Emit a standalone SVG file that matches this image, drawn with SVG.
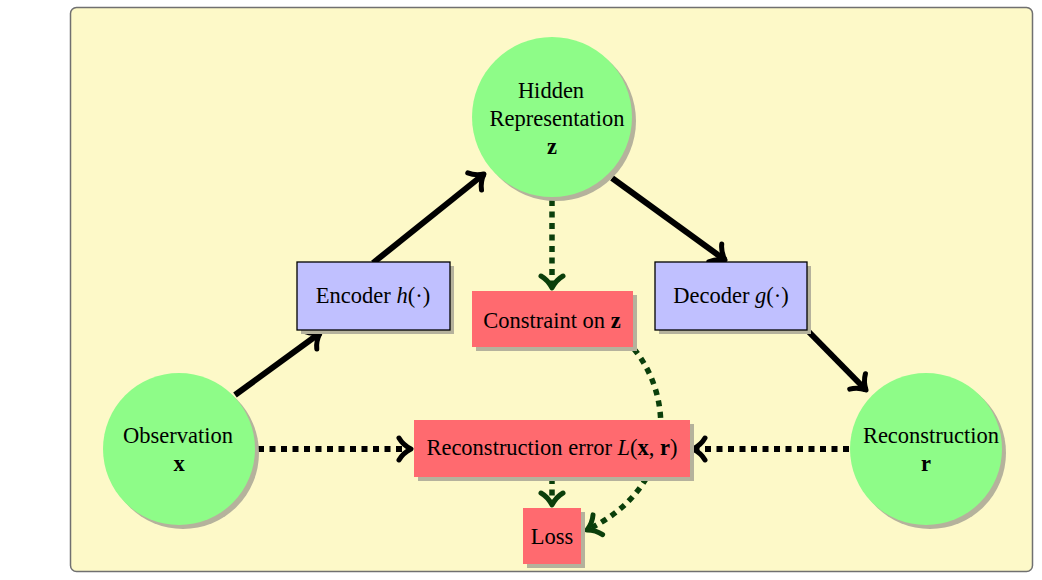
<svg xmlns="http://www.w3.org/2000/svg" width="1042" height="580" viewBox="0 0 1042 580">
<style>
text{font-family:"Liberation Serif","Times New Roman",serif;font-size:22.5px;fill:#000;text-anchor:middle}
.it{font-style:italic}
.bf{font-weight:bold}
.shadow{fill:#b5b29c}
.circ{fill:#8efc88}
.enc{fill:#c0c0ff;stroke:#000;stroke-width:1.3}
.err{fill:#ff6a6f}
.solid{fill:none;stroke:#000;stroke-width:6}
.dotk{fill:none;stroke:#000;stroke-width:6;stroke-dasharray:6 5.5}
.dotg{fill:none;stroke:#0b3f0b;stroke-width:5.5;stroke-dasharray:6 5.5}
</style>
<defs>
<marker id="ak" markerUnits="userSpaceOnUse" orient="auto" refX="0" refY="0" markerWidth="30" markerHeight="30" overflow="visible">
<path d="M -12 -11 C -8 -4 -2 -1 0 0 C -2 1 -8 4 -12 11" fill="none" stroke="#000" stroke-width="5" stroke-linecap="round" stroke-linejoin="round"/>
</marker>
<marker id="ag" markerUnits="userSpaceOnUse" orient="auto" refX="0" refY="0" markerWidth="30" markerHeight="30" overflow="visible">
<path d="M -12 -11 C -8 -4 -2 -1 0 0 C -2 1 -8 4 -12 11" fill="none" stroke="#0b3f0b" stroke-width="5" stroke-linecap="round" stroke-linejoin="round"/>
</marker>
</defs>
<rect id="frame" x="70.5" y="7.5" width="962" height="564" rx="6" fill="#fdf9c8" stroke="#707070" stroke-width="1.5"/>
<g id="connectors">
<path class="solid" d="M 235 395 L 320 333" marker-end="url(#ak)"/>
<path class="solid" d="M 373 263 L 484 174" marker-end="url(#ak)"/>
<path class="solid" d="M 612 178 L 725 260" marker-end="url(#ak)"/>
<path class="solid" d="M 807 330 L 866 390" marker-end="url(#ak)"/>
<path class="dotk" d="M 258 449 L 411 449" marker-end="url(#ak)"/>
<path class="dotk" d="M 849 449 L 693 449" marker-end="url(#ak)"/>
<path class="dotg" d="M 552 200 L 552 288" marker-end="url(#ag)"/>
<path class="dotg" d="M 552 478 L 552 505" marker-end="url(#ag)"/>
<path class="dotg" d="M 634 349 C 672 395 680 485 587 530" marker-end="url(#ag)"/>
</g>
<g id="hidden">
<circle class="shadow" cx="556" cy="121" r="80"/>
<circle class="circ" cx="552" cy="117" r="80"/>
<text x="551" y="98">Hidden</text>
<text x="557" y="126">Representation</text>
<text x="552" y="154" class="bf">z</text>
</g>
<g id="observation">
<circle class="shadow" cx="183" cy="453" r="76"/>
<circle class="circ" cx="179" cy="449" r="76"/>
<text x="178" y="443">Observation</text>
<text x="179" y="471" class="bf">x</text>
</g>
<g id="reconstruction">
<circle class="shadow" cx="930" cy="453" r="76"/>
<circle class="circ" cx="926" cy="449" r="76"/>
<text x="931" y="443">Reconstruction</text>
<text x="926" y="471" class="bf">r</text>
</g>
<g id="encoder">
<rect class="shadow" x="301" y="266" width="153" height="68"/>
<rect class="enc" x="297" y="262" width="153" height="68"/>
<text x="373" y="303">Encoder <tspan class="it">h</tspan>(·)</text>
</g>
<g id="decoder">
<rect class="shadow" x="659" y="266" width="152" height="68"/>
<rect class="enc" x="655" y="262" width="152" height="68"/>
<text x="731" y="303">Decoder <tspan class="it">g</tspan>(·)</text>
</g>
<g id="constraint">
<rect class="shadow" x="476" y="295" width="161" height="56"/>
<rect class="err" x="472" y="291" width="161" height="56"/>
<text x="552" y="328">Constraint on <tspan class="bf">z</tspan></text>
</g>
<g id="recon-error">
<rect class="shadow" x="418" y="424" width="276" height="57"/>
<rect class="err" x="414" y="420" width="276" height="57"/>
<text x="552" y="455">Reconstruction error <tspan class="it">L</tspan>(<tspan class="bf">x</tspan>, <tspan class="bf">r</tspan>)</text>
</g>
<g id="loss">
<rect class="shadow" x="527" y="512" width="58" height="56"/>
<rect class="err" x="523" y="508" width="58" height="56"/>
<text x="552" y="544">Loss</text>
</g>
</svg>
